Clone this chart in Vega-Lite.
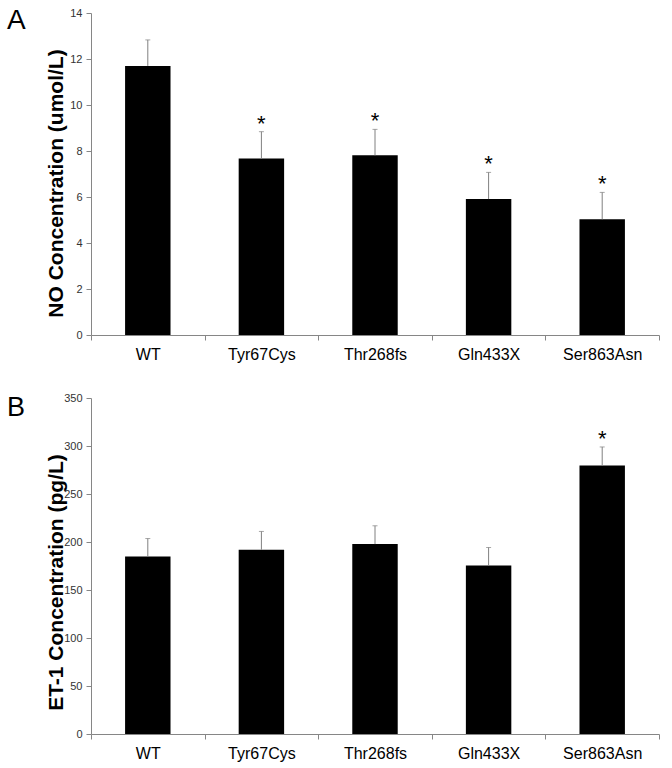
{
  "$schema": "https://vega.github.io/schema/vega-lite/v6.json",
  "padding": {"left": 7, "top": 7, "right": 5, "bottom": 5},
  "background": "white",
  "spacing": 30,
  "data": {"values": [
    {"panel": "A", "group": "WT", "value": 11.7, "upper": 12.83, "sig": ""},
    {"panel": "A", "group": "Tyr67Cys", "value": 7.67, "upper": 8.84, "sig": "*"},
    {"panel": "A", "group": "Thr268fs", "value": 7.81, "upper": 8.94, "sig": "*"},
    {"panel": "A", "group": "Gln433X", "value": 5.91, "upper": 7.07, "sig": "*"},
    {"panel": "A", "group": "Ser863Asn", "value": 5.03, "upper": 6.2, "sig": "*"},
    {"panel": "B", "group": "WT", "value": 184.9, "upper": 203.6, "sig": ""},
    {"panel": "B", "group": "Tyr67Cys", "value": 191.9, "upper": 211, "sig": ""},
    {"panel": "B", "group": "Thr268fs", "value": 197.8, "upper": 216.9, "sig": ""},
    {"panel": "B", "group": "Gln433X", "value": 175.5, "upper": 194.3, "sig": ""},
    {"panel": "B", "group": "Ser863Asn", "value": 279.8, "upper": 299, "sig": "*"}
  ]},
  "config": {
    "view": {"stroke": null},
    "font": "Liberation Sans",
    "axis": {
      "labelFont": "Liberation Sans",
      "labelColor": "#333333",
      "labelFontSize": 11,
      "domainColor": "#868686",
      "tickColor": "#868686",
      "tickSize": 5,
      "grid": false,
      "titleFont": "Liberation Sans",
      "titleFontSize": 21,
      "titleFontWeight": "bold",
      "titleColor": "black"
    }
  },
  "vconcat": [
    {
      "width": 568,
      "height": 322,
      "title": {"text": "A", "anchor": "start", "frame": "group", "fontSize": 28, "fontWeight": "normal", "baseline": "alphabetic", "offset": 0, "dx": -84, "dy": 50, "color": "black"},
      "transform": [{"filter": "datum.panel == 'A'"}],
      "encoding": {
        "x": {"field": "group", "type": "nominal", "sort": null, "scale": {"paddingInner": 0, "paddingOuter": 0},
              "axis": {"title": null, "labelAngle": 0, "labelFontSize": 16, "labelColor": "black", "tickBand": "extent", "labelPadding": 6}}
      },
      "layer": [
        {"mark": {"type": "bar", "color": "black", "width": {"band": 0.4}},
         "encoding": {"y": {"field": "value", "type": "quantitative", "scale": {"domain": [0, 14], "nice": false},
           "axis": {"title": "NO Concentration (umol/L)", "values": [0, 2, 4, 6, 8, 10, 12, 14], "titleX": -35, "titleY": 170, "titleBaseline": "middle", "titleAngle": -90, "labelPadding": 4}}}},
        {"mark": {"type": "rule", "color": "#808080", "strokeWidth": 1},
         "encoding": {"y": {"field": "value", "type": "quantitative", "title": "NO Concentration (umol/L)"}, "y2": {"field": "upper"}}},
        {"mark": {"type": "tick", "color": "#808080", "size": 5, "thickness": 1},
         "encoding": {"y": {"field": "upper", "type": "quantitative", "title": "NO Concentration (umol/L)"}}},
        {"transform": [{"filter": "datum.sig == '*'"}],
         "mark": {"type": "text", "fontSize": 22, "dy": -1, "baseline": "alphabetic", "color": "black"},
         "encoding": {"y": {"field": "upper", "type": "quantitative", "title": "NO Concentration (umol/L)"}, "text": {"field": "sig"}}}
      ]
    },
    {
      "width": 568,
      "height": 336,
      "title": {"text": "B", "anchor": "start", "frame": "group", "fontSize": 27, "fontWeight": "normal", "baseline": "alphabetic", "offset": 0, "dx": -84, "dy": 51, "color": "black"},
      "transform": [{"filter": "datum.panel == 'B'"}],
      "encoding": {
        "x": {"field": "group", "type": "nominal", "sort": null, "scale": {"paddingInner": 0, "paddingOuter": 0},
              "axis": {"title": null, "labelAngle": 0, "labelFontSize": 16, "labelColor": "black", "tickBand": "extent", "labelPadding": 6}}
      },
      "layer": [
        {"mark": {"type": "bar", "color": "black", "width": {"band": 0.4}},
         "encoding": {"y": {"field": "value", "type": "quantitative", "scale": {"domain": [0, 350], "nice": false},
           "axis": {"title": "ET-1 Concentration (pg/L)", "values": [0, 50, 100, 150, 200, 250, 300, 350], "titleX": -35, "titleY": 184, "titleBaseline": "middle", "titleAngle": -90, "labelPadding": 4}}}},
        {"mark": {"type": "rule", "color": "#808080", "strokeWidth": 1},
         "encoding": {"y": {"field": "value", "type": "quantitative", "title": "ET-1 Concentration (pg/L)"}, "y2": {"field": "upper"}}},
        {"mark": {"type": "tick", "color": "#808080", "size": 5, "thickness": 1},
         "encoding": {"y": {"field": "upper", "type": "quantitative", "title": "ET-1 Concentration (pg/L)"}}},
        {"transform": [{"filter": "datum.sig == '*'"}],
         "mark": {"type": "text", "fontSize": 22, "dy": -1, "baseline": "alphabetic", "color": "black"},
         "encoding": {"y": {"field": "upper", "type": "quantitative", "title": "ET-1 Concentration (pg/L)"}, "text": {"field": "sig"}}}
      ]
    }
  ]
}
